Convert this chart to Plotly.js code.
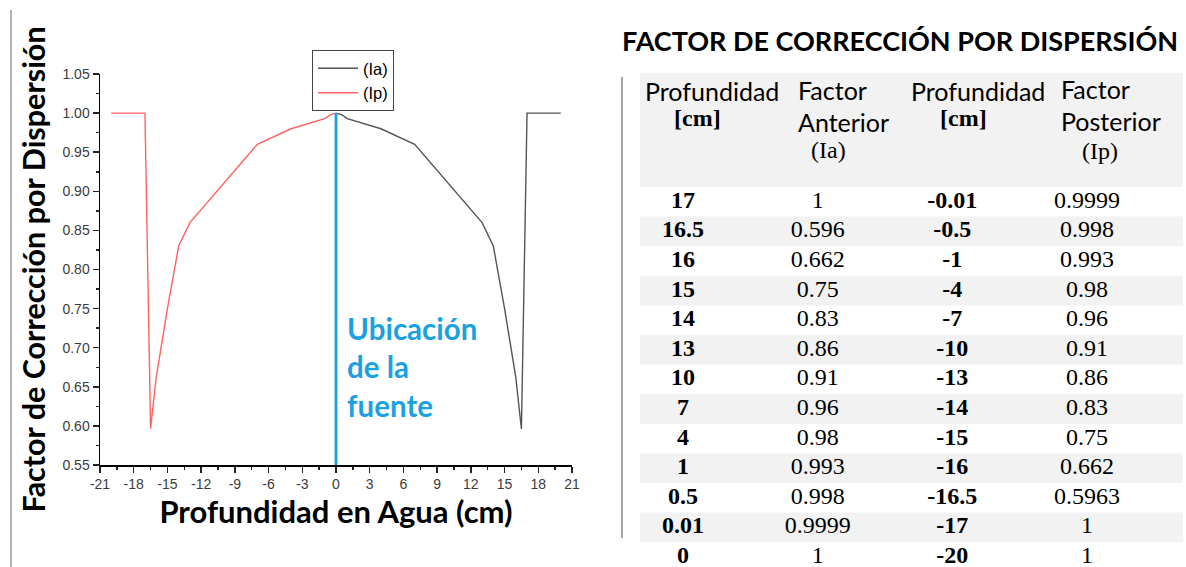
<!DOCTYPE html>
<html>
<head>
<meta charset="utf-8">
<script src="https://cdn.plot.ly/plotly-3.0.1.min.js"></script>
<style>
  html, body { margin: 0; padding: 0; background: #fff; }
  #chart { width: 1186px; height: 567px; }
</style>
</head>
<body>
<div id="chart"></div>
<script>
// Factor de corrección por dispersión: curves (left) + table (right)

// curve data
const depthIa = [0, 0.01, 0.5, 1, 4, 7, 10, 13, 14, 15, 16, 16.5, 17, 20];
const factorIa = [1, 0.9999, 0.998, 0.993, 0.98, 0.96, 0.91, 0.86, 0.83, 0.75, 0.662, 0.596, 1, 1];
const depthIp = [-20, -17, -16.5, -16, -15, -14, -13, -10, -7, -4, -1, -0.5, -0.01];
const factorIp = [1, 1, 0.5963, 0.662, 0.75, 0.83, 0.86, 0.91, 0.96, 0.98, 0.993, 0.998, 0.9999];
const sourceDepth = 0;
const xTickVals = [-21, -18, -15, -12, -9, -6, -3, 0, 3, 6, 9, 12, 15, 18, 21];

// table data
const tblDepthA = ["17", "16.5", "16", "15", "14", "13", "10", "7", "4", "1", "0.5", "0.01", "0"];
const tblFactorA = ["1", "0.596", "0.662", "0.75", "0.83", "0.86", "0.91", "0.96", "0.98", "0.993", "0.998", "0.9999", "1"];
const tblDepthP = ["-0.01", "-0.5", "-1", "-4", "-7", "-10", "-13", "-14", "-15", "-16", "-16.5", "-17", "-20"];
const tblFactorP = ["0.9999", "0.998", "0.993", "0.98", "0.96", "0.91", "0.86", "0.83", "0.75", "0.662", "0.5963", "1", "1"];

const SANS = "Lato, 'Open Sans', sans-serif";
const SERIF = "'Liberation Serif', 'Times New Roman', serif";
const ARIAL = "'Liberation Sans', Arial, sans-serif";
const BLUE = "#1ba1e2";
const GRAY_ROW = "#f2f2f2";

// px helpers: margins l=100, r=3, t=73, b=0 -> plot area 1083 x 494
const W = 1083, H = 494;
const px = (x) => (x - 100) / W;
const py = (y) => (567 - y) / H;

// table geometry (x2 units = columns, y2 units = rows)
const ROW_PX = 29.6, HEAD_PX = 114, COL_PX = 134.67;
const rowIdx = tblDepthA.map((_, i) => i);
const y2Top = -0.5 - HEAD_PX / ROW_PX;
const y2Bottom = y2Top + H / ROW_PX;
const x2Left = (640 - 683) / COL_PX;
const x2Right = (1183 - 683) / COL_PX;

function colTrace(col, vals, bold) {
  return {
    type: "scatter", mode: "text", xaxis: "x2", yaxis: "y2",
    x: vals.map(() => col), y: rowIdx,
    text: vals.map((v) => (bold ? "<b>" + v + "</b>" : v)),
    textposition: "middle center",
    textfont: { family: SERIF, size: 24, color: "#000" },
    showlegend: false, hoverinfo: "skip", cliponaxis: false,
  };
}

const traces = [
  {
    type: "scatter", mode: "lines", name: "(Ia)",
    x: depthIa, y: factorIa,
    line: { color: "#555555", width: 1.4 },
  },
  {
    type: "scatter", mode: "lines", name: "(Ip)",
    x: depthIp, y: factorIp,
    line: { color: "#ff6262", width: 1.4 },
  },
  colTrace(0, tblDepthA, true),
  colTrace(1, tblFactorA, false),
  colTrace(2, tblDepthP, true),
  colTrace(3, tblFactorP, false),
];

// header labels of the table
const headCells = [
  { x: 712, y: 91, t: "Profundidad", f: SANS },
  { x: 697, y: 118, t: "<b>[cm]</b>", f: SERIF },
  { x: 796, y: 90, t: "Factor", f: SANS, left: true },
  { x: 796, y: 122, t: "Anterior", f: SANS, left: true },
  { x: 828, y: 150, t: "(Ia)", f: SERIF },
  { x: 978, y: 91, t: "Profundidad", f: SANS },
  { x: 963, y: 118, t: "<b>[cm]</b>", f: SERIF },
  { x: 1059, y: 89, t: "Factor", f: SANS, left: true },
  { x: 1059, y: 121, t: "Posterior", f: SANS, left: true },
  { x: 1100, y: 151, t: "(Ip)", f: SERIF },
];

const annotations = headCells.map((h) => ({
  xref: "paper", yref: "paper",
  x: px(h.x), y: py(h.y),
  xanchor: h.left ? "left" : "center", yanchor: "middle",
  text: h.t, showarrow: false,
  font: { family: h.f, size: h.f === SANS ? 25 : 24, color: "#000" },
}));

annotations.push({
  xref: "x", yref: "y", x: 0.8, y: 0.675,
  xanchor: "left", yanchor: "middle", align: "left",
  text: "<b>Ubicación<br>de la<br>fuente</b>", showarrow: false,
  font: { family: SANS, size: 29.5, color: BLUE },
});

// row shading
const shapes = [
  { type: "rect", xref: "x2 domain", yref: "paper", x0: 0, x1: 1, y0: py(73 + HEAD_PX), y1: 1,
    fillcolor: GRAY_ROW, line: { width: 0 }, layer: "below" },
];
rowIdx.filter((i) => i % 2 === 1).forEach((i) => {
  shapes.push({ type: "rect", xref: "x2 domain", yref: "y2", x0: 0, x1: 1, y0: i - 0.5, y1: i + 0.5,
    fillcolor: GRAY_ROW, line: { width: 0 }, layer: "below" });
});
shapes.push(
  { type: "line", xref: "x", yref: "y", x0: sourceDepth, x1: sourceDepth, y0: 0.55, y1: 1,
    line: { color: BLUE, width: 2.8 } },
  { type: "line", xref: "paper", yref: "paper", x0: px(11), x1: px(11), y0: py(10), y1: py(567),
    line: { color: "#999", width: 1.5 } },
  { type: "line", xref: "paper", yref: "paper", x0: px(622), x1: px(622), y0: py(77), y1: py(538),
    line: { color: "#888", width: 1.5 } }
);

const axisCommon = {
  showgrid: false, zeroline: false,
  showline: true, linecolor: "#000", linewidth: 1.5,
  ticks: "outside", ticklen: 6, tickwidth: 1.5, tickcolor: "#222",
  tickfont: { family: ARIAL, size: 14, color: "#3c3c3c" },
  fixedrange: true,
};

const layout = {
  width: 1186, height: 567,
  margin: { l: 100, r: 3, t: 73, b: 0 },
  paper_bgcolor: "#fff", plot_bgcolor: "rgba(0,0,0,0)",
  title: {
    text: "<b>FACTOR DE CORRECCIÓN POR DISPERSIÓN</b>",
    x: 900 / 1186, xanchor: "center",
    y: 1 - 42 / 567, yanchor: "middle",
    font: { family: SANS, size: 27, color: "#000" },
  },
  xaxis: Object.assign({}, axisCommon, {
    domain: [0, px(572)],
    range: [-21, 21],
    tickmode: "array", tickvals: xTickVals, ticktext: xTickVals.map(String),
    minor: { dtick: 1.5, tick0: 0, ticklen: 3, tickwidth: 1.5, tickcolor: "#222", ticks: "outside" },
    title: { text: "<b>Profundidad en Agua (cm)</b>", standoff: 6,
      font: { family: SANS, size: 31, color: "#000" } },
  }),
  yaxis: Object.assign({}, axisCommon, {
    domain: [py(465), py(74)],
    range: [0.55, 1.05], dtick: 0.05, tick0: 0.55, tickformat: ".2f",
    minor: { dtick: 0.025, ticklen: 3, tickwidth: 1.5, tickcolor: "#222", ticks: "outside" },
    title: { text: "<b>Factor de Corrección por Dispersión</b>", standoff: 8,
      font: { family: SANS, size: 30.5, color: "#000" } },
  }),
  xaxis2: { domain: [px(640), 1], range: [x2Left, x2Right], anchor: "y2", visible: false, fixedrange: true },
  yaxis2: { domain: [0, 1], range: [y2Bottom, y2Top], anchor: "x2", visible: false, fixedrange: true },
  showlegend: true,
  legend: {
    x: px(312), y: py(50), xanchor: "left", yanchor: "top",
    bgcolor: "#fff", bordercolor: "#444", borderwidth: 1,
    font: { family: ARIAL, size: 16.5, color: "#000" },
    itemwidth: 40, tracegroupgap: 0,
  },
  shapes: shapes,
  annotations: annotations,
};

Plotly.newPlot("chart", traces, layout, { staticPlot: true, displayModeBar: false });
</script>
</body>
</html>
